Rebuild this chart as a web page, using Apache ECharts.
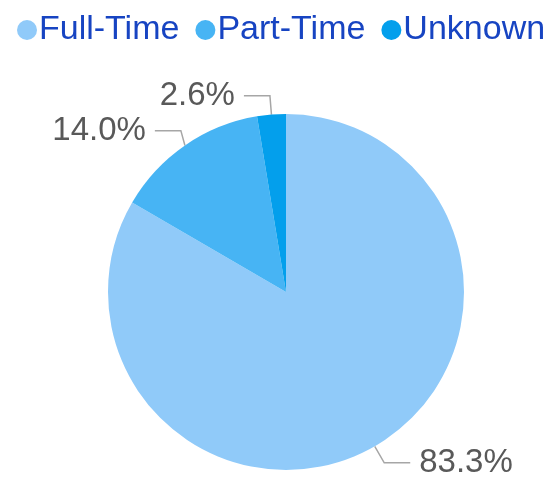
<!DOCTYPE html>
<html>
<head>
<meta charset="utf-8">
<script src="https://cdn.jsdelivr.net/npm/echarts@6/dist/echarts.min.js"></script>
<style>
  html, body { margin: 0; padding: 0; background: #fff; }
  #chart { width: 555px; height: 479px; }
</style>
</head>
<body>
<div id="chart"></div>
<script>
const categories = ["Full-Time", "Part-Time", "Unknown"];
const values = [83.3, 14.0, 2.6];
const colors = ["#90CAF9", "#47B4F4", "#039FEC"];

const chart = echarts.init(document.getElementById("chart"));
chart.setOption({
  color: colors,
  legend: {
    top: 8,
    left: 12,
    icon: "circle",
    itemWidth: 20,
    itemHeight: 20,
    itemGap: 16,
    textStyle: { color: "#1744C2", fontSize: 34, fontFamily: "Liberation Sans", padding: [0, 0, 0, -3] },
    data: categories
  },
  series: [{
    type: "pie",
    center: [286, 292],
    radius: [0, 178],
    startAngle: 90,
    clockwise: true,
    animation: false,
    label: {
      color: "#595959",
      fontSize: 33,
      fontFamily: "Liberation Sans",
      distanceToLabelLine: 9,
      formatter: (p) => p.value.toFixed(1) + "%"
    },
    labelLine: {
      length: 19,
      length2: 26,
      lineStyle: { color: "#A6A6A6", width: 1.5 }
    },
    data: categories.map((name, i) => ({ name: name, value: values[i] }))
  }]
});
</script>
</body>
</html>
